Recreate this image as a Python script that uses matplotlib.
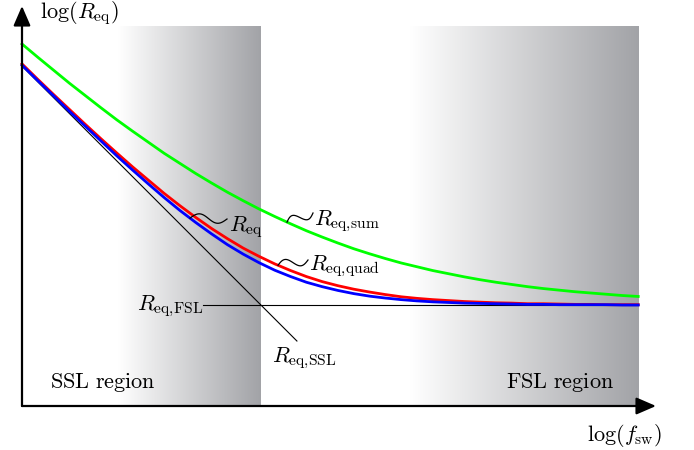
import numpy as np
import matplotlib
matplotlib.use("Agg")
import matplotlib.pyplot as plt
from matplotlib.colors import LinearSegmentedColormap

plt.rcParams["mathtext.fontset"] = "cm"

# log(f_sw) measured from the vertical axis, in decades
log_fsw = [0.00, 0.05, 0.10, 0.15, 0.20, 0.25, 0.30, 0.35, 0.40, 0.45,
           0.50, 0.55, 0.60, 0.65, 0.70, 0.75, 0.80, 0.85, 0.90, 0.95,
           1.00, 1.05, 1.10, 1.15, 1.20, 1.25, 1.30, 1.35, 1.40, 1.45,
           1.50, 1.55, 1.60, 1.65, 1.70, 1.75, 1.80, 1.85, 1.90, 1.95]

# log(R_eq) relative to the fast-switching limit, in decades
r_eq_sum = [0.826, 0.784, 0.743, 0.702, 0.663, 0.624, 0.586, 0.550, 0.515, 0.480,
            0.448, 0.416, 0.386, 0.357, 0.330, 0.304, 0.280, 0.257, 0.235, 0.215,
            0.196, 0.178, 0.162, 0.147, 0.133, 0.121, 0.109, 0.099, 0.089, 0.080,
            0.072, 0.065, 0.058, 0.052, 0.047, 0.042, 0.038, 0.034, 0.030, 0.027]
r_eq_quad = [0.763, 0.714, 0.666, 0.619, 0.572, 0.526, 0.481, 0.437, 0.395, 0.353,
             0.314, 0.277, 0.242, 0.210, 0.180, 0.154, 0.130, 0.109, 0.090, 0.074,
             0.061, 0.050, 0.041, 0.033, 0.026, 0.021, 0.017, 0.014, 0.011, 0.009,
             0.007, 0.006, 0.004, 0.004, 0.003, 0.002, 0.002, 0.001, 0.001, 0.001]
r_eq = [0.759, 0.710, 0.662, 0.613, 0.566, 0.519, 0.472, 0.427, 0.383, 0.340,
        0.299, 0.261, 0.225, 0.191, 0.161, 0.134, 0.110, 0.090, 0.072, 0.058,
        0.046, 0.036, 0.028, 0.022, 0.017, 0.013, 0.010, 0.008, 0.006, 0.005,
        0.004, 0.003, 0.002, 0.002, 0.001, 0.001, 0.001, 0.001, 0.000, 0.000]

# asymptotes: slow-switching (slope -1) and fast-switching (flat)
ssl_x = [0.00, 0.87]
ssl_y = [0.756, -0.114]
fsl_x = [0.573, 1.95]
fsl_y = [0.0, 0.0]

# shaded regions
ssl_region = (0.304, 0.756)
fsl_region = (1.228, 1.95)

W, H = 694, 450
X0, Y0, S = 22, 305, 316   # pixel position of (0, 0) and pixels per decade


def d(px, py):
    return (px - X0) / S, (Y0 - py) / S


fig = plt.figure(figsize=(W / 100, H / 100), dpi=100)
ax = fig.add_axes([0, 0, 1, 1])
ax.set_xlim(d(0, 0)[0], d(W, 0)[0])
ax.set_ylim(d(0, H)[1], d(0, 0)[1])
ax.axis("off")

y_axis0 = d(0, 406)[1]
y_top = d(0, 26)[1]

shade = LinearSegmentedColormap.from_list("shade", ["#ffffff", "#a2a3a7"])
grad = np.linspace(0, 1, 256).reshape(1, -1)
for x_lo, x_hi in (ssl_region, fsl_region):
    ax.imshow(grad, cmap=shade, extent=(x_lo, x_hi, y_axis0, y_top),
              aspect="auto", interpolation="bilinear", zorder=0)

ax.plot(ssl_x, ssl_y, color="black", lw=0.8, zorder=2)
ax.plot(fsl_x, fsl_y, color="black", lw=0.8, zorder=2)
ax.plot(log_fsw, r_eq_sum, color="#00ff00", lw=2.0, zorder=3)
ax.plot(log_fsw, r_eq_quad, color="#ff0000", lw=2.0, zorder=3)
ax.plot(log_fsw, r_eq, color="#0000ff", lw=2.0, zorder=3)

# axes with arrow heads
arrow = dict(arrowstyle="-|>,head_length=0.6,head_width=0.26", lw=1.6,
             color="black", mutation_scale=20, shrinkA=0, shrinkB=0)
ax.annotate("", xy=(d(656, 0)[0], y_axis0), xytext=(0, y_axis0), arrowprops=arrow, zorder=5)
ax.annotate("", xy=(0, d(0, 6)[1]), xytext=(0, y_axis0), arrowprops=arrow, zorder=5)


def wiggle(curve, px0, px1, py1, amp=4.5):
    py0 = Y0 - S * np.interp((px0 - X0) / S, log_fsw, curve)
    t = np.linspace(0, 1, 60)
    dx, dy = px1 - px0, py1 - py0
    L = np.hypot(dx, dy)
    nx, ny = dy / L, -dx / L
    off = amp * np.sin(2 * np.pi * t)
    xs = px0 + t * dx + off * nx
    ys = py0 + t * dy + off * ny
    ax.plot((xs - X0) / S, (Y0 - ys) / S, color="black", lw=0.9, zorder=4)


wiggle(r_eq, 190, 227, 219)
wiggle(r_eq_sum, 287, 313, 213)
wiggle(r_eq_quad, 278, 308, 260)

fs = 16


def label(px, py, s, ha="left"):
    x, y = d(px, py)
    ax.text(x, y, s, fontsize=fs, ha=ha, va="baseline", zorder=6)


label(40, 18, r"$\log(R_{\mathrm{eq}})$")
label(587, 441, r"$\log(f_{\mathrm{sw}})$")
label(229, 231, r"$R_{\mathrm{eq}}$")
label(314, 225, r"$R_{\mathrm{eq{,}sum}}$")
label(309, 270, r"$R_{\mathrm{eq{,}quad}}$")
label(203, 310, r"$R_{\mathrm{eq{,}FSL}}$", ha="right")
label(272, 362, r"$R_{\mathrm{eq{,}SSL}}$")
label(50, 388, r"$\mathrm{SSL\ region}$")
label(614, 388, r"$\mathrm{FSL\ region}$", ha="right")

fig.savefig("out.png", dpi=100, facecolor="white")
